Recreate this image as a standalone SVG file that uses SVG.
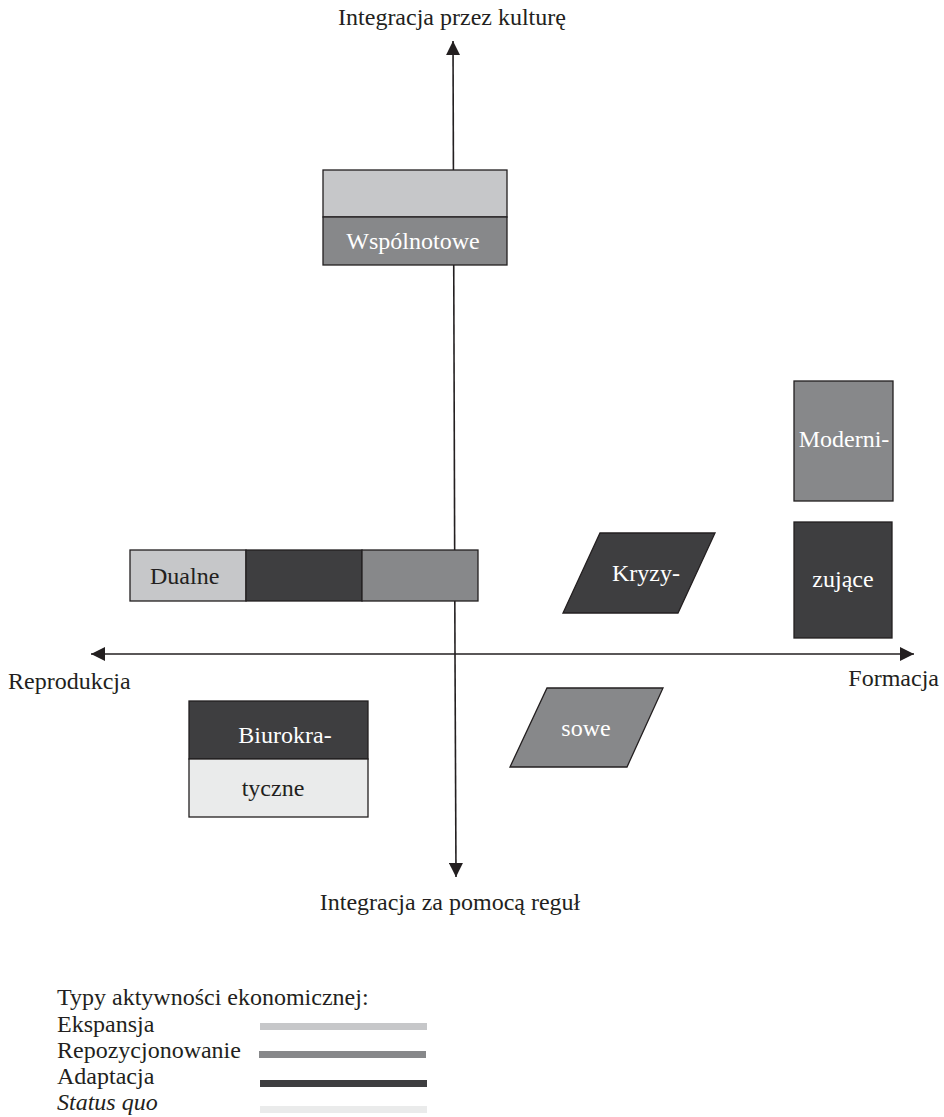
<svg xmlns="http://www.w3.org/2000/svg" width="944" height="1117" viewBox="0 0 944 1117">
<style>
text{font-family:'Liberation Serif','Times New Roman',serif;font-size:24px;fill:#231f20}
.w{fill:#ffffff}
.box{stroke:#231f20;stroke-width:1.3}
.exp{fill:#c6c7c9}
.rep{fill:#87888a}
.ada{fill:#3e3e40}
.sq{fill:#eaebeb}
.axis{stroke:#231f20;stroke-width:1.6;fill:none}
</style>
<defs>
<marker id="ah" viewBox="0 0 10 10" refX="10" refY="5" markerWidth="14" markerHeight="14" markerUnits="userSpaceOnUse" orient="auto">
<path d="M0,0 L10,5 L0,10 z" fill="#231f20"/>
</marker>
</defs>
<rect width="944" height="1117" fill="#ffffff"/>
<g id="connectors">
<line class="axis" x1="455" y1="654" x2="453" y2="41" marker-end="url(#ah)"/>
<line class="axis" x1="455" y1="654" x2="456" y2="877" marker-end="url(#ah)"/>
<line class="axis" x1="455" y1="654" x2="91" y2="654" marker-end="url(#ah)"/>
<line class="axis" x1="455" y1="654" x2="914" y2="654" marker-end="url(#ah)"/>
</g>
<g id="axis-labels">
<text x="452" y="25" text-anchor="middle">Integracja przez kulturę</text>
<text x="450" y="910" text-anchor="middle">Integracja za pomocą reguł</text>
<text x="8" y="689">Reprodukcja</text>
<text x="939" y="686" text-anchor="end">Formacja</text>
</g>
<g id="wspolnotowe">
<rect class="box exp" x="323" y="170" width="184" height="47"/>
<rect class="box rep" x="323" y="217" width="184" height="48"/>
<text class="w" x="413" y="249" text-anchor="middle">Wspólnotowe</text>
</g>
<g id="dualne">
<rect class="box exp" x="130" y="550" width="116" height="51"/>
<rect class="box ada" x="246" y="550" width="116" height="51"/>
<rect class="box rep" x="362" y="550" width="116" height="51"/>
<text x="150" y="584">Dualne</text>
</g>
<g id="modernizujace">
<rect class="box rep" x="794" y="381" width="99" height="120"/>
<text class="w" x="844" y="447" text-anchor="middle">Moderni-</text>
<rect class="box ada" x="794" y="522" width="98" height="116"/>
<text class="w" x="843" y="587" text-anchor="middle">zujące</text>
</g>
<g id="kryzysowe">
<polygon class="box ada" points="600,533 715,533 678,613 563,613"/>
<text class="w" x="646" y="581" text-anchor="middle">Kryzy-</text>
<polygon class="box rep" points="547,688 663,688 627,767 510,767"/>
<text class="w" x="586" y="736" text-anchor="middle">sowe</text>
</g>
<g id="biurokratyczne">
<rect class="box ada" x="189" y="701" width="179" height="58"/>
<rect class="box sq" x="189" y="759" width="179" height="58"/>
<text class="w" x="285" y="743" text-anchor="middle">Biurokra-</text>
<text x="273" y="796" text-anchor="middle">tyczne</text>
</g>
<g id="legend">
<text x="57" y="1005">Typy aktywności ekonomicznej:</text>
<text x="57" y="1032">Ekspansja</text>
<text x="57" y="1058">Repozycjonowanie</text>
<text x="57" y="1084">Adaptacja</text>
<text x="57" y="1110" font-style="italic">Status quo</text>
<rect class="exp" x="260" y="1023" width="167" height="7"/>
<rect class="rep" x="259" y="1051" width="167" height="7"/>
<rect class="ada" x="260" y="1080" width="167" height="7"/>
<rect class="sq" x="260" y="1106" width="167" height="7"/>
</g>
</svg>
